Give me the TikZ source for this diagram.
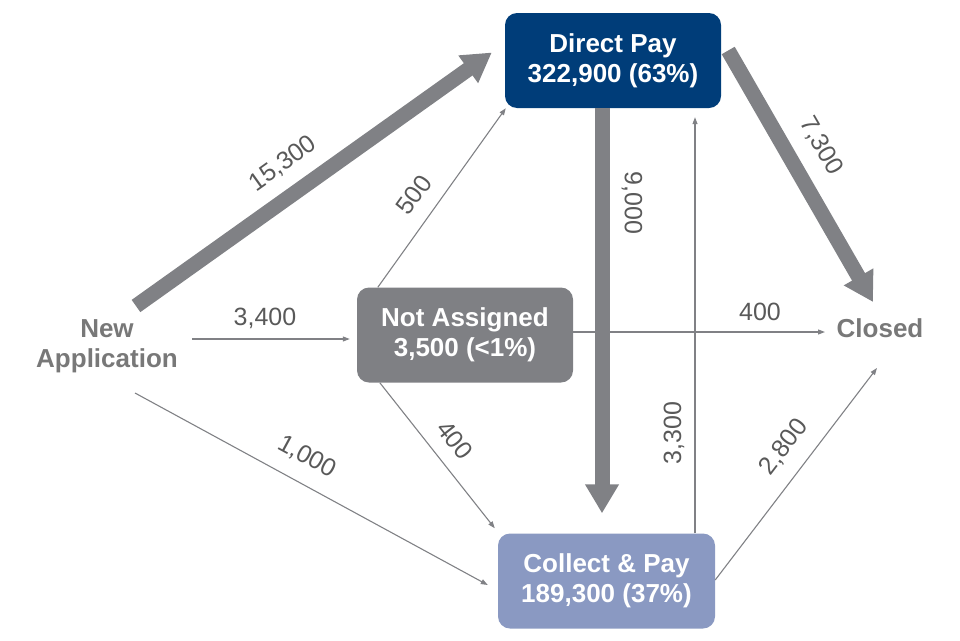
\documentclass[tikz,border=0pt]{standalone}
\usepackage{fontspec}
\setmainfont{Liberation Sans}
\usetikzlibrary{arrows.meta}
\definecolor{directblue}{RGB}{0, 61, 121}
\definecolor{pendinggray}{RGB}{127, 128, 132}
\definecolor{collectblue}{RGB}{138, 153, 194}
\definecolor{flowgray}{RGB}{128, 129, 133}
\definecolor{labelgray}{RGB}{89, 89, 89}
\definecolor{endgray}{RGB}{120, 120, 120}

\begin{document}
\begin{tikzpicture}[x=1pt, y=-1pt,
    scheme/.style={rectangle, rounded corners=12pt, minimum width=216pt, minimum height=95pt, inner sep=0pt, text=white, align=center, font=\bfseries\fontsize{26}{30}\selectfont},
    endpoint/.style={inner sep=0pt, text=endgray, align=center, font=\bfseries\fontsize{26}{30}\selectfont},
    count/.style={inner sep=0pt, text=labelgray, font=\fontsize{25}{29}\selectfont},
    thin flow/.style={-{Triangle[length=7pt, width=5pt]}, line width=1.1pt, color=flowgray},
    thick flow/.style={-{Triangle[length=29pt, width=32pt]}, line width=15pt, color=flowgray}
]
\useasboundingbox (0,0) rectangle (960,640);

% Schemes
\node[scheme, fill=directblue] (dp) at (613,60.5) {Direct Pay\\322,900 (63\%)};
\node[scheme, fill=pendinggray] (na) at (465,335) {Not Assigned\\3,500 (<1\%)};
\node[scheme, fill=collectblue, minimum width=217pt] (cp) at (606.5,581) {Collect \& Pay\\189,300 (37\%)};

% Start and end
\node[endpoint] (newapp) at (107,346) {New\\Application};
\node[endpoint] (closed) at (880,328) {Closed};

% Small flows
\draw[thin flow] ([shift={(21,0)}]na.north west) -- ([shift={(1,0)}]dp.south west);
\draw[thin flow] ([shift={(85,-7)}]newapp.center) -- ([shift={(-7,4)}]na.west);
\draw[thin flow] ([shift={(28,47)}]newapp.center) -- ([shift={(-10,4)}]cp.west);
\draw[thin flow] ([shift={(23,0)}]na.south west) -- ([shift={(-3,-5)}]cp.north west);
\draw[thin flow] ([shift={(0,-3)}]na.east) -- ([shift={(-55,4)}]closed.center);
\draw[thin flow] ([shift={(88.5,0)}]cp.north) -- ([shift={(82,9)}]dp.south);
\draw[thin flow] ([shift={(0,-1)}]cp.east) -- ([shift={(-3,40)}]closed.center);

% Large flows
\draw[thick flow] ([shift={(29,-40)}]newapp.center) -- ([shift={(-13,-8)}]dp.west);
\draw[thick flow] ([shift={(-11,0)}]dp.south) -- ([shift={(-4.5,-20)}]cp.north);
\draw[thick flow] ([shift={(7,-10)}]dp.east) -- ([shift={(-7,-26)}]closed.center);

% Counts
\node[count, rotate=35.5] (c15300) at (283,164) {15,300};
\node[count, rotate=54.4] (c500) at (414,195) {500};
\node[count] (c3400) at (265,318) {3,400};
\node[count, rotate=-28.5] (c1000) at (307,457) {1,000};
\node[count, rotate=-51.6] (c400a) at (455,440) {400};
\node[count, rotate=-90] (c9000) at (632,203) {9,000};
\node[count, rotate=90] (c3300) at (674,433) {3,300};
\node[count, rotate=-60] (c7300) at (821,146) {7,300};
\node[count] (c400b) at (760,312) {400};
\node[count, rotate=52.6] (c2800) at (784,447) {2,800};

\end{tikzpicture}
\end{document}
